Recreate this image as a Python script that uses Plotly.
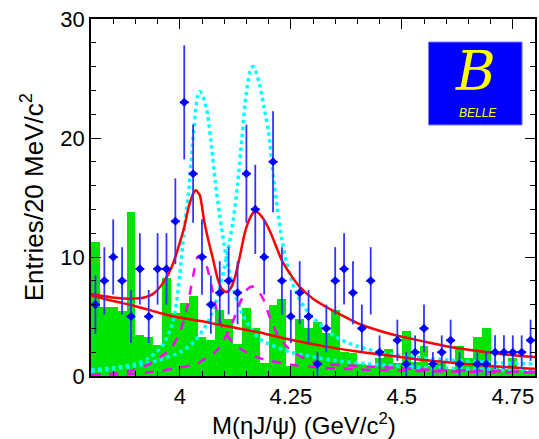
import numpy as np
import plotly.graph_objects as go

# ---------------- data ----------------
bin_lo = [round(3.80 + 0.02 * i, 2) for i in range(50)]
counts = [6, 8, 10, 8, 5, 9, 5, 9, 9, 13,
          23, 17, 10, 6, 7, 8, 7, 17, 14, 10,
          18, 8, 5, 7, 5, 1, 4, 8, 9, 7,
          4, 8, 2, 0, 3, 1, 2, 4, 1, 2,
          3, 1, 0, 1, 1, 2, 2, 2, 2, 3]
green_hist = [11.3, 5.8, 5.8, 5.5, 13.75, 3.45, 3.3, 2.6, 8.26, 5.3,
              6.1, 6.75, 3.3, 3.0, 5.55, 4.76, 2.7, 5.7, 4.0, 1.1,
              6.0, 6.47, 0.8, 4.8, 4.0, 4.5, 3.6, 5.55, 2.0, 1.96,
              1.0, 0.8, 1.49, 2.24, 1.12, 3.78, 1.2, 2.5, 0.8, 1.1,
              0.6, 2.52, 1.49, 3.25, 4.0, 0.8, 0.6, 1.49, 0.5, 0.4]

tot_x = [3.80, 3.83, 3.86, 3.89, 3.92, 3.94, 3.96, 3.98, 3.99, 4.00, 4.01, 4.02, 4.03, 4.036,
         4.045, 4.055, 4.065, 4.075, 4.085, 4.095, 4.105, 4.115, 4.125, 4.135, 4.145, 4.155,
         4.165, 4.172, 4.18, 4.19, 4.205, 4.22, 4.23, 4.25, 4.27, 4.30, 4.33, 4.36,
         4.40, 4.45, 4.50, 4.55, 4.60, 4.65, 4.70, 4.75, 4.80]
tot_y = [6.9, 6.7, 6.55, 6.5, 6.6, 6.9, 7.7, 9.0, 10.0, 11.2, 12.5, 14.2, 15.3, 15.6,
         15.2, 13.0, 11.3, 9.8, 8.2, 7.3, 7.05, 7.4, 8.4, 10.0, 11.8, 13.0,
         13.7, 13.8, 13.6, 13.1, 12.0, 10.6, 9.7, 8.5, 7.5, 6.5, 5.8, 5.2,
         4.45, 3.8, 3.3, 2.9, 2.5, 2.2, 1.95, 1.75, 1.6]

bkg_x = [3.80, 3.85, 3.89, 3.95, 3.98, 4.05, 4.09, 4.18, 4.25, 4.33, 4.40, 4.48, 4.55, 4.63, 4.70, 4.80]
bkg_y = [6.8, 6.3, 5.97, 5.35, 5.04, 4.6, 4.3, 3.65, 3.05, 2.47, 2.05, 1.68, 1.34, 1.06, 0.84, 0.6]

c1_x = [3.80, 3.85, 3.90, 3.93, 3.96, 3.98, 3.99, 4.00, 4.01, 4.02, 4.03, 4.04, 4.045, 4.05,
        4.06, 4.07, 4.08, 4.09, 4.10, 4.11, 4.12, 4.14, 4.16, 4.18, 4.20, 4.25, 4.30, 4.35,
        4.40, 4.50, 4.60, 4.70, 4.80]
c1_y = [0.5, 0.7, 1.0, 1.5, 2.5, 4.0, 5.5, 8.5, 12.3, 15.5, 20.0, 23.5, 23.9, 23.7,
        22.5, 19.8, 16.3, 13.5, 11.0, 9.0, 7.4, 5.3, 4.0, 3.1, 2.7, 2.0, 1.6, 1.3,
        1.1, 0.8, 0.65, 0.55, 0.45]

c2_x = [3.80, 3.85, 3.90, 3.95, 4.00, 4.03, 4.06, 4.08, 4.10, 4.12, 4.13, 4.14, 4.15, 4.16,
        4.165, 4.17, 4.18, 4.19, 4.20, 4.21, 4.22, 4.23, 4.24, 4.26, 4.28, 4.30, 4.35, 4.40,
        4.45, 4.50, 4.60, 4.70, 4.80]
c2_y = [0.4, 0.6, 0.85, 1.3, 2.0, 2.8, 4.3, 6.0, 9.0, 13.0, 16.0, 20.0, 23.8, 25.8,
        26.0, 25.7, 24.5, 22.5, 20.5, 17.0, 14.0, 11.5, 9.6, 7.2, 5.8, 4.9, 3.3, 2.5,
        2.0, 1.7, 1.35, 1.15, 1.0]

m1_x = [3.80, 3.85, 3.88, 3.92, 3.94, 3.96, 3.98, 4.00, 4.01, 4.02, 4.03, 4.04, 4.045, 4.05,
        4.06, 4.07, 4.08, 4.09, 4.10, 4.12, 4.14, 4.16, 4.18, 4.22, 4.26, 4.30, 4.40, 4.50,
        4.60, 4.80]
m1_y = [0.1, 0.2, 0.35, 0.8, 1.2, 1.7, 2.3, 3.7, 4.8, 6.4, 8.4, 10.0, 10.1, 10.0,
        9.3, 7.8, 6.0, 4.6, 3.7, 2.8, 2.2, 1.8, 1.5, 1.15, 0.9, 0.75, 0.55, 0.45,
        0.38, 0.3]

m2_x = [3.80, 3.90, 3.94, 4.00, 4.04, 4.06, 4.08, 4.10, 4.11, 4.12, 4.13, 4.14, 4.15, 4.16,
        4.165, 4.17, 4.18, 4.19, 4.20, 4.21, 4.22, 4.24, 4.26, 4.28, 4.30, 4.33, 4.40, 4.50,
        4.55, 4.65, 4.80]
m2_y = [0.05, 0.2, 0.36, 0.7, 1.07, 1.5, 2.0, 3.1, 3.8, 4.6, 5.7, 6.5, 7.2, 7.5,
        7.5, 7.4, 7.0, 6.3, 5.2, 4.3, 3.5, 2.5, 1.9, 1.5, 1.2, 1.0, 0.85, 0.65,
        0.55, 0.45, 0.35]

x_tickvals = [4.0, 4.25, 4.5, 4.75]
x_ticktext = ["4", "4.25", "4.5", "4.75"]
y_tickvals = [0, 10, 20, 30]

# ---------------- figure ----------------
centers = np.array(bin_lo) + 0.01
cnt = np.array(counts, dtype=float)
mask = cnt > 0

fig = go.Figure()
fig.add_trace(go.Bar(x=centers, y=green_hist, width=0.02, marker=dict(color="#00e400", line=dict(width=0)),
                     showlegend=False))

def curve(xs, ys, color, width, dash, smooth=0.8):
    fig.add_trace(go.Scatter(x=xs, y=ys, mode="lines",
                             line=dict(color=color, width=width, dash=dash, shape="spline", smoothing=smooth),
                             showlegend=False, hoverinfo="skip"))

curve(c1_x, c1_y, "#00ffff", 3.5, "dot")
curve(c2_x, c2_y, "#00ffff", 3.5, "dot")
curve(m1_x, m1_y, "#ff00ff", 2.5, "dash")
curve(m2_x, m2_y, "#ff00ff", 2.5, "dash")
curve(bkg_x, bkg_y, "#ff0000", 2.5, "solid")
curve(tot_x, tot_y, "#ff0000", 2.5, "solid", 0.6)

fig.add_trace(go.Scatter(
    x=centers[mask], y=cnt[mask], mode="markers",
    marker=dict(symbol="diamond", size=7, color="#0000ff"),
    error_y=dict(type="data", array=np.sqrt(cnt[mask]), color="#3333ff", thickness=1.8, width=0),
    error_x=dict(type="data", array=np.full(mask.sum(), 0.01), color="#0000ff", thickness=2, width=0),
    showlegend=False))

font_main = "Liberation Sans, Arial, Helvetica, sans-serif"

fig.update_layout(
    width=539, height=439,
    margin=dict(l=91, r=2, t=19, b=63),
    paper_bgcolor="white", plot_bgcolor="white",
    bargap=0,
    font=dict(family=font_main, size=22, color="black"),
    xaxis=dict(range=[3.8, 4.8], showgrid=False, zeroline=False,
               showline=True, linecolor="black", linewidth=1.5, mirror="ticks",
               ticks="inside", ticklen=10, tickwidth=1.2, tickcolor="black",
               tickvals=x_tickvals, ticktext=x_ticktext, tickfont=dict(size=22),
               minor=dict(dtick=0.05, tick0=4.0, ticks="inside", ticklen=5, tickwidth=1, tickcolor="black")),
    yaxis=dict(range=[0, 30], showgrid=False, zeroline=False,
               showline=True, linecolor="black", linewidth=1.5, mirror="ticks",
               ticks="inside", ticklen=10, tickwidth=1.2, tickcolor="black",
               tickvals=y_tickvals, tickfont=dict(size=22),
               minor=dict(dtick=2, tick0=0, ticks="inside", ticklen=5, tickwidth=1, tickcolor="black")),
)

# axis titles
fig.add_annotation(text="M(ηJ/ψ) (GeV/c<sup>2</sup>)", xref="paper", yref="paper",
                   x=(305 - 91) / 446, y=-(424 - 376) / 357, showarrow=False,
                   font=dict(size=24, family=font_main), xanchor="center", yanchor="middle")
fig.add_annotation(text="Entries/20 MeV/c<sup>2</sup>", xref="paper", yref="paper",
                   x=-(91 - 32) / 446, y=(376 - 197) / 357, showarrow=False, textangle=-90,
                   font=dict(size=26, family=font_main), xanchor="center", yanchor="middle")

# Belle logo
fig.add_shape(type="rect", xref="paper", yref="paper",
              x0=(430 - 91) / 446, x1=(524 - 91) / 446, y0=(376 - 125) / 357, y1=(376 - 42) / 357,
              fillcolor="#0000ff", line=dict(color="#8080ff", width=1), layer="above")
fig.add_annotation(text="B", xref="paper", yref="paper",
                   x=(477 - 91) / 446, y=(376 - 71) / 357, showarrow=False,
                   font=dict(size=54, color="#ffff00", family="DejaVu Serif", style="italic"),
                   xanchor="center", yanchor="middle")
fig.add_annotation(text="BELLE", xref="paper", yref="paper",
                   x=(480 - 91) / 446, y=(376 - 113) / 357, showarrow=False,
                   font=dict(size=12, color="#ffff00", family=font_main, style="italic"),
                   xanchor="center", yanchor="middle")

fig.write_html("out.html")
